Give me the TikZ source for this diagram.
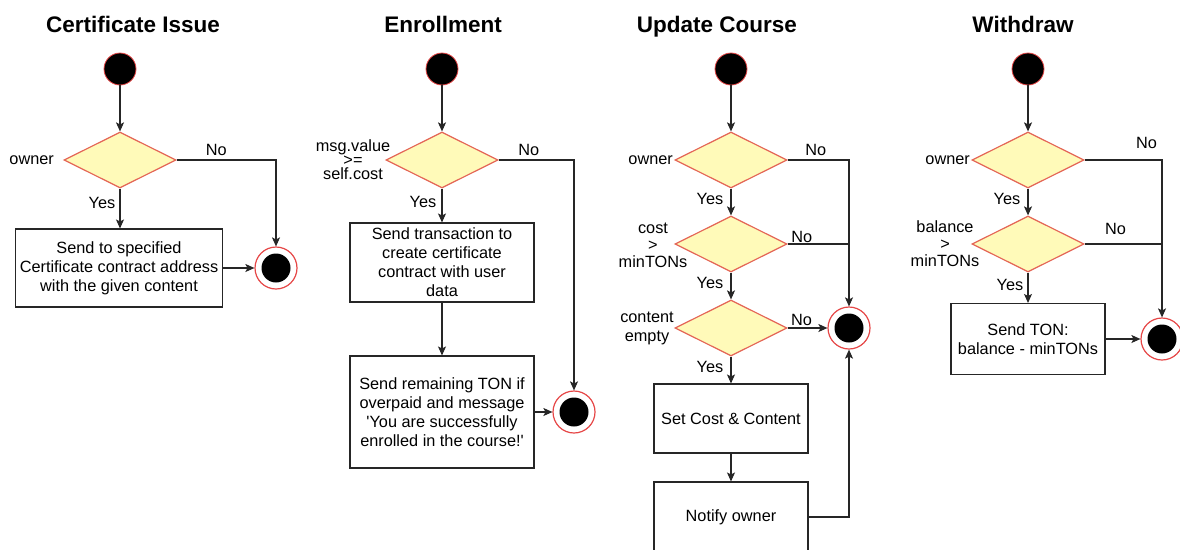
\documentclass[tikz,border=0pt]{standalone}
\usepackage{fontspec}
\setmainfont{Liberation Sans}
\usetikzlibrary{shapes.geometric,arrows.meta}
\definecolor{condfill}{RGB}{255,250,185}
\definecolor{condline}{RGB}{228,100,85}
\definecolor{ringred}{RGB}{230,70,70}
\begin{document}
\begin{tikzpicture}[x=1pt,y=-1pt,
    line width=1.1pt,
    flow/.style={draw=black!85,-{Stealth[length=9pt,width=8pt,inset=2pt]}},
    wire/.style={draw=black!85}]
      \tikzset{every node/.style={font=\fontsize{16.3}{19}\selectfont,inner sep=0pt}}
      \tikzset{title/.style={font=\fontsize{22.5}{26}\selectfont\bfseries,anchor=base}}
      \tikzset{start/.style={circle,draw=ringred,line width=0.8pt,fill=black,minimum size=32pt}}
      \tikzset{final/.style={circle,draw=ringred,line width=1.2pt,fill=white,minimum size=42pt,
          path picture={\fill[black] (path picture bounding box.center) circle (14.5pt);}}}
      \tikzset{cond/.style={diamond,draw=condline,fill=condfill,line width=1.2pt,aspect=2,
          minimum width=112pt,minimum height=56pt}}
      \tikzset{act/.style={rectangle,draw=black!85,line width=1.1pt,fill=white,align=center}}
      \tikzset{lbl/.style={align=center}}
      \useasboundingbox (0,0) rectangle (1180,549);
      \clip (0,0) rectangle (1180,549);

      % Certificate Issue
      \node[title] (t1) at (133,32) {Certificate Issue};
      \node[start] (s1) at (120,69) {};
      \node[cond] (c1) at (120,160) {};
      \node[act,minimum width=207pt,minimum height=78pt] (a1) at (119,268)
        {Send to specified\\Certificate contract address\\with the given content};
      \node[final] (f1) at (276,268) {};
      \node[lbl,anchor=east] (c1l) at ([xshift=-9pt]c1.west) {owner};
      \draw[flow] (s1) -- (c1.north);
      \draw[flow] (c1.south) -- node[pos=0.35,xshift=-18pt] (y1) {Yes} (c1.south |- a1.north);
      \draw[flow] (c1.east) -| node[pos=0.2,yshift=10pt] (n1) {No} (f1.north);
      \draw[flow] (a1.east) -- (f1.west);

      % Enrollment
      \node[title] (t2) at (443,32) {Enrollment};
      \node[start] (s2) at (442,69) {};
      \node[cond] (c2) at (442,160) {};
      \node[act,minimum width=184pt,minimum height=79pt] (a2) at (442,262.5)
        {Send transaction to\\create certificate\\contract with user\\data};
      \node[act,minimum width=184pt,minimum height=112pt] (b2) at (442,412)
        {Send remaining TON if\\overpaid and message\\\textquotesingle You are successfully\\enrolled in the course!\textquotesingle};
      \node[final] (f2) at (574,412) {};
      \node[lbl] (c2l) at (353,160) {msg.value\\[-5pt]>=\\[-5pt]self.cost};
      \draw[flow] (s2) -- (c2.north);
      \draw[flow] (c2.south) -- node[pos=0.4,xshift=-19pt] (y2) {Yes} (a2.north);
      \draw[flow] (c2.east) -| node[pos=0.2,yshift=10pt] (n2) {No} (f2.north);
      \draw[flow] (a2.south) -- (b2.north);
      \draw[flow] (b2.east) -- (f2.west);

      % Update Course
      \node[title] (t3) at (717,32) {Update Course};
      \node[start] (s3) at (731,69) {};
      \node[cond] (c3a) at (731,160) {};
      \node[cond] (c3b) at (731,244) {};
      \node[cond] (c3c) at (731,328) {};
      \node[act,minimum width=154pt,minimum height=69pt] (a3) at (731,418.5) {Set Cost \& Content};
      \node[act,minimum width=154pt,minimum height=70pt] (b3) at (731,517) {Notify owner};
      \node[final] (f3) at (849,328) {};
      \node[lbl,anchor=east] (c3al) at ([xshift=-1pt]c3a.west) {owner};
      \node[lbl] (c3bl) at (653,245) {cost\\[-2pt]>\\[-2pt]minTONs};
      \node[lbl] (c3cl) at (647,328) {content\\empty};
      \draw[flow] (s3) -- (c3a.north);
      \draw[flow] (c3a.south) -- node[pos=0.4,xshift=-21pt] (y3a) {Yes} (c3b.north);
      \draw[flow] (c3b.south) -- node[pos=0.4,xshift=-21pt] (y3b) {Yes} (c3c.north);
      \draw[flow] (c3c.south) -- node[pos=0.4,xshift=-21pt] (y3c) {Yes} (a3.north);
      \draw[flow] (c3a.east) -| node[pos=0.23,yshift=10pt] (n3a) {No} (f3.north);
      \draw[wire] (c3b.east) -- node[pos=0.23,yshift=7pt] (n3b) {No} (c3b.east -| f3);
      \draw[flow] (c3c.east) -- node[pos=0.35,yshift=8pt] (n3c) {No} (f3.west);
      \draw[flow] (a3.south) -- (b3.north);
      \draw[flow] (b3.east) -| (f3.south);

      % Withdraw
      \node[title] (t4) at (1023,32) {Withdraw};
      \node[start] (s4) at (1028,69) {};
      \node[cond] (c4a) at (1028,160) {};
      \node[cond] (c4b) at (1028,244) {};
      \node[act,minimum width=154pt,minimum height=71pt] (a4) at (1028,339)
        {Send TON:\\balance - minTONs};
      \node[final] (f4) at (1162,339) {};
      \node[lbl,anchor=east] (c4al) at ([xshift=-1pt]c4a.west) {owner};
      \node[lbl] (c4bl) at (945,244) {balance\\[-2pt]>\\[-2pt]minTONs};
      \draw[flow] (s4) -- (c4a.north);
      \draw[flow] (c4a.south) -- node[pos=0.4,xshift=-21pt] (y4a) {Yes} (c4b.north);
      \draw[flow] (c4b.south) -- node[pos=0.4,xshift=-18pt] (y4b) {Yes} (a4.north);
      \draw[flow] (c4a.east) -| node[pos=0.4,yshift=17pt] (n4a) {No} (f4.north);
      \draw[wire] (c4b.east) -- node[pos=0.4,yshift=15pt] (n4b) {No} (c4b.east -| f4);
      \draw[flow] (a4.east) -- (f4.west);
    \end{tikzpicture}
\end{document}
